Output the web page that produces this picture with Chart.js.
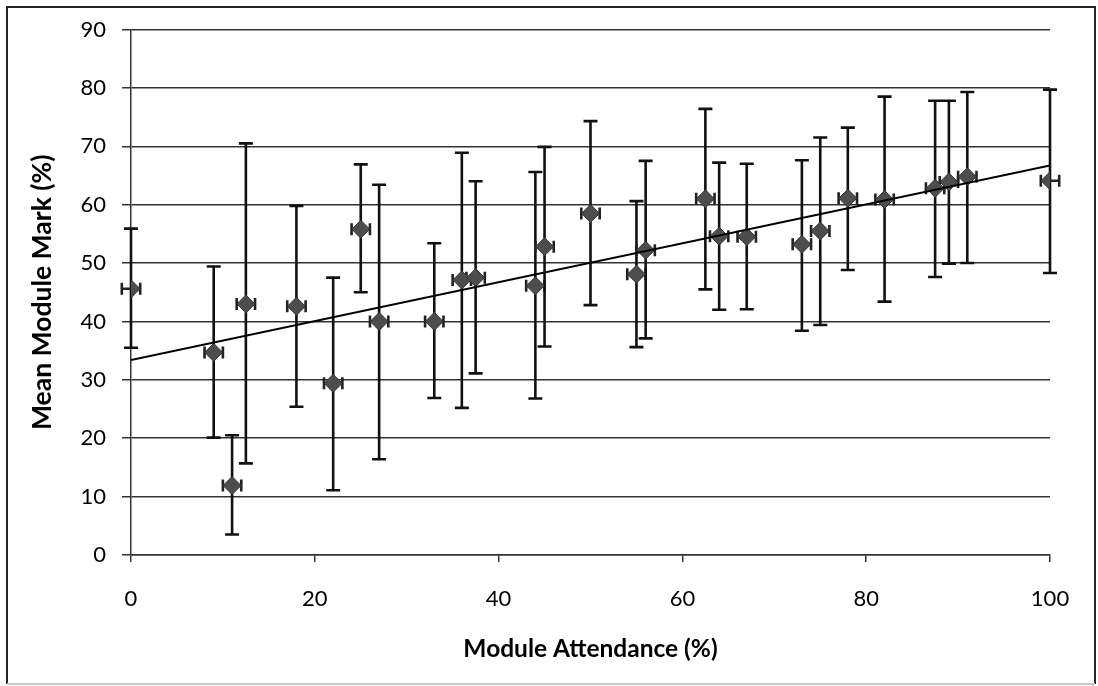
<!DOCTYPE html>
<html>
<head>
<meta charset="utf-8">
<script src="https://cdn.jsdelivr.net/npm/chart.js@4"></script>
<style>
html,body{margin:0;padding:0;background:#fff;}
#wrap{position:relative;width:1098px;height:686px;}
</style>
</head>
<body>
<div id="wrap"><canvas id="c" width="1098" height="686"></canvas></div>
<script>
// ---- data ----
const attendance = [0, 9, 11, 12.5, 18, 22, 25, 27, 33, 36, 37.5, 44, 45, 50, 55, 56, 62.5, 64, 67, 73, 75, 78, 82, 87.5, 89, 91, 100];
const meanMark   = [45.6, 34.7, 11.9, 43, 42.6, 29.4, 55.8, 40, 40, 47.1, 47.5, 46.1, 52.8, 58.5, 48.1, 52.2, 61, 54.6, 54.5, 53.2, 55.5, 61.1, 60.9, 62.8, 63.9, 64.8, 64.1];
const markUpper  = [55.9, 49.4, 20.5, 70.5, 59.8, 47.5, 66.9, 63.4, 53.4, 68.9, 64, 65.6, 69.9, 74.3, 60.6, 67.5, 76.4, 67.2, 67, 67.6, 71.5, 73.2, 78.5, 77.8, 77.8, 79.3, 79.7];
const markLower  = [35.5, 20.1, 3.5, 15.7, 25.4, 11.1, 45, 16.4, 26.9, 25.2, 31.1, 26.8, 35.7, 42.8, 35.6, 37.1, 45.5, 42, 42.1, 38.4, 39.4, 48.8, 43.4, 47.6, 49.9, 50, 48.3];
const attendanceError = 1;
const trendX = [0, 100];
const trendY = [33.4, 66.7];
const xTicks = [0, 20, 40, 60, 80, 100];
const yTicks = [0, 10, 20, 30, 40, 50, 60, 70, 80, 90];

const points = attendance.map((x, i) => ({x: x, y: meanMark[i]}));
const trend = trendX.map((x, i) => ({x: x, y: trendY[i]}));

const errorBars = {
  id: 'errorBars',
  beforeDatasetsDraw(chart) {
    const ctx = chart.ctx;
    const xs = chart.scales.x, ys = chart.scales.y;
    ctx.save();
    ctx.lineWidth = 2.6;
    ctx.lineCap = 'butt';
    const capW = 7;
    attendance.forEach((x, i) => {
      const px = xs.getPixelForValue(x);
      const pt = ys.getPixelForValue(markUpper[i]);
      const pb = ys.getPixelForValue(markLower[i]);
      const pm = ys.getPixelForValue(meanMark[i]);
      ctx.strokeStyle = '#111';
      ctx.beginPath();
      ctx.moveTo(px, pt); ctx.lineTo(px, pb);
      ctx.moveTo(px - capW, pt); ctx.lineTo(px + capW, pt);
      ctx.moveTo(px - capW, pb); ctx.lineTo(px + capW, pb);
      ctx.stroke();
      // horizontal error bars
      const pl = xs.getPixelForValue(x - attendanceError);
      const pr = xs.getPixelForValue(x + attendanceError);
      ctx.strokeStyle = '#222';
      ctx.beginPath();
      ctx.moveTo(pl, pm); ctx.lineTo(pr, pm);
      ctx.moveTo(pl, pm - 6); ctx.lineTo(pl, pm + 6);
      ctx.moveTo(pr, pm - 6); ctx.lineTo(pr, pm + 6);
      ctx.stroke();
    });
    ctx.restore();
  }
};

const frame = {
  id: 'frame',
  afterDraw(chart) {
    const ctx = chart.ctx;
    ctx.save();
    ctx.lineWidth = 2;
    ctx.strokeStyle = '#222';
    ctx.beginPath();
    ctx.moveTo(7, 684); ctx.lineTo(7, 7); ctx.lineTo(1095, 7); ctx.lineTo(1095, 684);
    ctx.stroke();
    ctx.strokeStyle = '#c8c8c8';
    ctx.beginPath();
    ctx.moveTo(7, 684); ctx.lineTo(1095, 684);
    ctx.stroke();
    ctx.restore();
  }
};

new Chart(document.getElementById('c'), {
  data: {
    datasets: [
      {
        type: 'line',
        data: trend,
        borderColor: '#000',
        borderWidth: 2,
        pointRadius: 0,
        fill: false,
        order: 0
      },
      {
        type: 'scatter',
        data: points,
        pointStyle: 'rectRot',
        pointRadius: 9,
        backgroundColor: '#4d4d4d',
        borderColor: '#333',
        borderWidth: 1,
        order: 1
      }
    ]
  },
  options: {
    responsive: false,
    animation: false,
    devicePixelRatio: 1,
    layout: { padding: { left: 0, top: 29.5, right: 48, bottom: 0 } },
    plugins: { legend: { display: false }, tooltip: { enabled: false } },
    scales: {
      x: {
        type: 'linear',
        min: 0, max: 100,
        afterBuildTicks: s => { s.ticks = xTicks.map(v => ({value: v})); },
        afterFit: s => { s.height = 131; },
        grid: { drawOnChartArea: false, drawTicks: true, tickLength: 7, color: '#333', lineWidth: 1.5 },
        border: { display: true, color: '#333', width: 1.5 },
        ticks: { color: '#000', padding: 24, maxRotation: 0, font: { family: 'Lato', size: 22 } },
        title: { display: true, text: 'Module Attendance (%)', color: '#000',
                 font: { family: 'Lato', size: 24.5, weight: 'bold' }, padding: { top: 0, bottom: 22 } }
      },
      y: {
        type: 'linear',
        min: 0, max: 90,
        afterBuildTicks: s => { s.ticks = yTicks.map(v => ({value: v})); },
        afterFit: s => { s.width = 131; },
        grid: { drawOnChartArea: true, drawTicks: true, tickLength: 9, color: '#333', lineWidth: 1.5 },
        border: { display: true, color: '#333', width: 1.5 },
        ticks: { color: '#000', padding: 16, font: { family: 'Lato', size: 22 } },
        title: { display: true, text: 'Mean Module Mark (%)', color: '#000',
                 font: { family: 'Lato', size: 26.5, weight: 'bold' }, padding: { top: 27, bottom: 0 } }
      }
    }
  },
  plugins: [errorBars, frame]
});
</script>
</body>
</html>
